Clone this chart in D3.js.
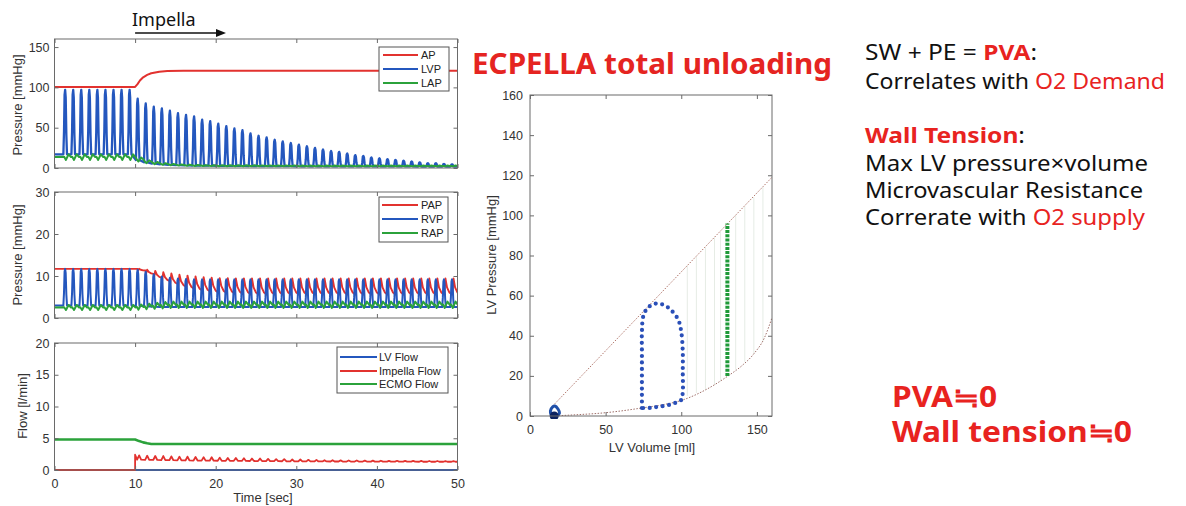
<!DOCTYPE html>
<html>
<head>
<meta charset="utf-8">
<script src="https://cdn.jsdelivr.net/npm/d3@7"></script>
<style>
body { margin: 0; background: #fff; }
svg { display: block; }
</style>
</head>
<body>
<svg id="fig"></svg>
<script>
// ---- data ----
// one beat per second, first beat at 1.3 s, 49 beats
const firstBeat = 1.3;
const beatPeriod = 1.0;

const lvpPeak = [97,97,97,97,97,97,97,97,97,
  86,80,76,74,71,68,66,64,60,58,
  55,52,49,47,43,40,38,35,33,31,
  29,27,25,23,21,20,18,16,15,13,
  12,11,10,9,8,7,6,6,5,4.5];
const lvpMin = [17,17,17,17,17,17,17,17,17,
  10,7,5.5,4.5,4,3.6,3.3,3.1,3,2.9,
  2.8,2.7,2.6,2.6,2.5,2.5,2.4,2.4,2.3,2.3,
  2.2,2.2,2.2,2.1,2.1,2.1,2,2,2,2,
  2,1.9,1.9,1.9,1.9,1.8,1.8,1.8,1.8,1.8];
const lapLow = [10,10,10,10,10,10,10,10,10,
  8,6,4.8,4,3.4,3,2.7,2.5,2.4,2.3,
  2.2,2.2,2.2,2.2,2.2,2.1,2.1,2.1,2.1,2.1,
  2,2,2,2,2,2,2,2,2,2,
  2,2,2,2,2,2,2,2,2,2];
const lapHigh = [17,17,17,17,17,17,17,17,17,
  13,9.5,7.5,6,5,4.4,4,3.7,3.5,3.4,
  3.3,3.3,3.3,3.3,3.3,3.2,3.2,3.2,3.2,3.2,
  3.1,3.1,3.1,3.1,3.1,3.1,3.1,3.1,3.1,3.1,
  3.1,3.1,3.1,3.1,3.1,3.1,3.1,3.1,3.1,3.1];
const apTime = [0, 10, 10.3, 10.6, 11, 11.5, 12, 13, 14, 16, 50];
const apValue = [100.5, 100.5, 104, 108.5, 112.5, 115.5, 117.5, 119.5, 120.3, 120.7, 120.7];

const rvpPeak = [11.7,11.7,11.7,11.7,11.7,11.7,11.7,11.7,11.7,
  11.5,11,10.4,9.9,9.6,9.4,9.3,9.2,9.2,9.2,
  9.2,9.2,9.2,9.2,9.2,9.2,9.2,9.2,9.2,9.2,
  9.2,9.2,9.2,9.2,9.2,9.2,9.2,9.2,9.2,9.2,
  9.2,9.2,9.2,9.2,9.2,9.2,9.2,9.2,9.2,9.2];
const rvpMin = [3,3,3,3,3,3,3,3,3,
  2.9,2.8,2.7,2.6,2.6,2.6,2.6,2.6,2.6,2.6,
  2.6,2.6,2.6,2.6,2.6,2.6,2.6,2.6,2.6,2.6,
  2.6,2.6,2.6,2.6,2.6,2.6,2.6,2.6,2.6,2.6,
  2.6,2.6,2.6,2.6,2.6,2.6,2.6,2.6,2.6,2.6];
const papSys = [11.7,11.7,11.7,11.7,11.7,11.7,11.7,11.7,11.7,
  11.7,11.5,11.2,10.9,10.6,10.3,10.1,9.9,9.7,9.6,
  9.5,9.5,9.4,9.4,9.4,9.4,9.4,9.4,9.4,9.4,
  9.4,9.4,9.4,9.4,9.4,9.4,9.4,9.4,9.4,9.4,
  9.4,9.4,9.4,9.4,9.4,9.4,9.4,9.4,9.4,9.4];
const papDia = [11.7,11.7,11.7,11.7,11.7,11.7,11.7,11.7,11.7,
  11.3,10.5,9.6,8.8,8.1,7.5,7.0,6.6,6.3,6.1,
  6.0,5.9,5.8,5.7,5.6,5.6,5.6,5.6,5.6,5.6,
  5.6,5.6,5.6,5.6,5.6,5.6,5.6,5.6,5.6,5.6,
  5.6,5.6,5.6,5.6,5.6,5.6,5.6,5.6,5.6,5.6];
const rapLow = [1.9,1.9,1.9,1.9,1.9,1.9,1.9,1.9,1.9,
  2.0,2.1,2.2,2.3,2.4,2.4,2.4,2.4,2.4,2.4,
  2.4,2.4,2.4,2.4,2.4,2.4,2.4,2.4,2.4,2.4,
  2.4,2.4,2.4,2.4,2.4,2.4,2.4,2.4,2.4,2.4,
  2.4,2.4,2.4,2.4,2.4,2.4,2.4,2.4,2.4,2.4];
const rapHigh = [3.1,3.1,3.1,3.1,3.1,3.1,3.1,3.1,3.1,
  3.2,3.4,3.6,3.8,3.9,3.9,3.9,3.9,3.9,3.9,
  3.9,3.9,3.9,3.9,3.9,3.9,3.9,3.9,3.9,3.9,
  3.9,3.9,3.9,3.9,3.9,3.9,3.9,3.9,3.9,3.9,
  3.9,3.9,3.9,3.9,3.9,3.9,3.9,3.9,3.9,3.9];

const impellaStart = 10;
const impellaJump = 2.4;
// beats 10..49 (after Impella start)
const impPeak = [2.3,2.25,2.2,2.2,2.15,2.1,2.1,2.05,2.0,2.0,
  1.95,1.9,1.9,1.85,1.8,1.8,1.75,1.7,1.7,1.65,
  1.65,1.6,1.6,1.55,1.55,1.52,1.5,1.5,1.48,1.47,
  1.46,1.45,1.45,1.44,1.43,1.43,1.42,1.42,1.41,1.41];
const impTrough = [1.62,1.6,1.58,1.56,1.54,1.52,1.5,1.49,1.48,1.47,
  1.46,1.45,1.44,1.43,1.42,1.41,1.4,1.39,1.38,1.37,
  1.36,1.36,1.35,1.35,1.34,1.34,1.33,1.33,1.33,1.32,
  1.32,1.32,1.31,1.31,1.31,1.3,1.3,1.3,1.3,1.3];
const ecmoTime = [0, 10, 10.5, 11, 11.5, 12, 50];
const ecmoValue = [4.8, 4.8, 4.55, 4.35, 4.2, 4.1, 4.1];
const lvFlowTime = [0, 50];
const lvFlowValue = [0, 0];

// PV loop plane
const espvrV = [15, 160];
const espvrP = [5, 119];
const edpvrV = [15, 30, 48, 60, 74, 87, 101, 116, 131, 140, 148, 155, 160];
const edpvrP = [0, 0.6, 1.5, 2.5, 4, 5.5, 8, 13, 20, 25, 31, 39, 49];
const loopV = [74, 74, 74, 74, 74, 75, 78, 83, 88, 93, 98, 100, 101, 101, 101, 100, 96, 90, 84, 79, 74];
const loopP = [4, 12, 22, 32, 42, 50, 54, 56, 55.5, 53, 48, 42, 32, 22, 12, 8, 6.5, 5.2, 4.5, 4, 4];
const smallLoopV = [14, 13.5, 15, 16.5, 18.5, 19.5, 18, 15, 14];
const smallLoopP = [0.5, 2.5, 4.5, 5, 3.5, 1.5, 0.3, 0, 0.5];
const endStateV = 16;
const endStateP = 0;
const ecmoLineV = [130.5, 130.5];
const ecmoLineP = [20, 96];
const faintV = [104, 110, 116, 122, 126, 136, 142, 148, 154];
const faintLow = [10, 11.5, 13, 15.5, 17.5, 23, 27, 31, 37];
const faintHigh = [75, 79.5, 84, 89, 92, 100, 104.5, 109, 114];

// ---- drawing ----
const W = 1186, H = 506;
const RED = "#e2322f", BLUE = "#2457be", GREEN = "#2ba23b";
const AXIS = "#6a6a6a";
const TICKFONT = "'Liberation Sans', Arial, sans-serif";
const SLIDEFONT = "'Noto Sans', 'Noto Sans CJK JP', sans-serif";

const svg = d3.select("#fig").attr("width", W).attr("height", H);
svg.append("rect").attr("width", W).attr("height", H).attr("fill", "#fff");

const beatTime = i => firstBeat + i * beatPeriod;

function frame(g, x, y, xTicks, yTicks, xLabels, padX, padY) {
  const [x0, x1] = x.range();
  const [yb, yt] = y.range();
  const style = sel => {
    sel.select(".domain").remove();
    sel.selectAll("line").attr("stroke", AXIS);
    sel.selectAll("text").attr("fill", "#333").style("font-family", TICKFONT).style("font-size", "12.5px");
  };
  g.append("g").attr("transform", `translate(0,${yb})`)
    .call(d3.axisBottom(x).tickValues(xTicks).tickSize(-4).tickPadding(padX)
      .tickFormat(xLabels ? d3.format("d") : ""))
    .call(style);
  g.append("g").attr("transform", `translate(0,${yt})`)
    .call(d3.axisTop(x).tickValues(xTicks).tickSize(-4).tickFormat("")).call(style);
  g.append("g").attr("transform", `translate(${x0},0)`)
    .call(d3.axisLeft(y).tickValues(yTicks).tickSize(-4).tickPadding(padY).tickFormat(d3.format("d")))
    .call(style);
  g.append("g").attr("transform", `translate(${x1},0)`)
    .call(d3.axisRight(y).tickValues(yTicks).tickSize(-4).tickFormat("")).call(style);
  g.append("rect").attr("x", x0).attr("y", yt).attr("width", x1 - x0).attr("height", yb - yt)
    .attr("fill", "none").attr("stroke", AXIS).attr("stroke-width", 1);
}

function clip(id, x, y) {
  const [x0, x1] = x.range();
  const [yb, yt] = y.range();
  svg.append("clipPath").attr("id", id).append("rect")
    .attr("x", x0).attr("y", yt - 1).attr("width", x1 - x0).attr("height", yb - yt + 2);
}

function yLabel(text, cx, cy) {
  svg.append("text").attr("transform", `translate(${cx},${cy}) rotate(-90)`)
    .attr("text-anchor", "middle").attr("dy", "0.35em")
    .style("font-family", TICKFONT).style("font-size", "13px").attr("fill", "#333")
    .text(text);
}

function legend(box, rows) {
  const g = svg.append("g");
  g.append("rect").attr("x", box[0]).attr("y", box[1]).attr("width", box[2]).attr("height", box[3])
    .attr("fill", "#fff").attr("stroke", "#555").attr("stroke-width", 1);
  rows.forEach(r => {
    g.append("line").attr("x1", r.x0).attr("x2", r.x1).attr("y1", r.y).attr("y2", r.y)
      .attr("stroke", r.color).attr("stroke-width", 2);
    g.append("text").attr("x", r.tx).attr("y", r.y).attr("dy", "0.36em")
      .style("font-family", TICKFONT).style("font-size", "11px").attr("fill", "#222").text(r.label);
  });
}

const pts = (xs, ys) => xs.map((v, i) => [v, ys[i]]);

// waveform builders from per-beat values
function spikeSeries(peaks, mins) {
  const out = [[0, mins[0]]];
  peaks.forEach((pk, i) => {
    const t = beatTime(i) - 0.2, lo = mins[i], a = pk - lo;
    out.push([t, lo], [t + 0.08, lo + 0.35 * a], [t + 0.15, lo + 0.92 * a], [t + 0.22, pk],
      [t + 0.29, lo + 0.88 * a], [t + 0.37, lo + 0.3 * a], [t + 0.45, lo]);
  });
  out.push([50, mins[mins.length - 1]]);
  return out;
}
function waveSeries(lows, highs) {
  const out = [[0, (lows[0] + highs[0]) / 2]];
  lows.forEach((lo, i) => {
    const t = beatTime(i), hi = highs[i];
    out.push([t - 0.1, lo + 0.55 * (hi - lo)], [t + 0.12, lo], [t + 0.45, hi], [t + 0.75, lo + 0.5 * (hi - lo)]);
  });
  out.push([50, (lows[lows.length - 1] + highs[highs.length - 1]) / 2]);
  return out;
}
function papSeries(sys, dia) {
  const out = [[0, dia[0]]];
  sys.forEach((s, i) => {
    const t = beatTime(i) + 0.05, d = dia[i];
    const prev = i > 0 ? dia[i - 1] : d;
    out.push([t, Math.min(prev, d)], [t + 0.15, s], [t + 0.35, d + 0.45 * (s - d)], [t + 0.65, d + 0.12 * (s - d)], [t + 0.95, d]);
  });
  out.push([50, dia[dia.length - 1]]);
  return out;
}
function impellaSeries() {
  const out = [[0, 0], [impellaStart, 0], [impellaStart, impellaJump]];
  impPeak.forEach((pk, k) => {
    const t = beatTime(k + 9), lo = impTrough[k];
    out.push([t - 0.05, lo], [t + 0.2, pk], [t + 0.45, lo]);
  });
  out.push([50, impTrough[impTrough.length - 1]]);
  return out;
}

const tx = d3.scaleLinear().domain([0, 50]).range([54.5, 457.5]);
const y1 = d3.scaleLinear().domain([0, 160]).range([168, 39]);
const y2 = d3.scaleLinear().domain([0, 30]).range([318, 192]);
const y3 = d3.scaleLinear().domain([0, 20]).range([470, 343]);
const timeTicks = [0, 10, 20, 30, 40, 50];

function drawSeries(id, y, series) {
  const g = svg.append("g").attr("clip-path", `url(#${id})`);
  const line = d3.line().x(d => tx(d[0])).y(d => y(d[1]));
  series.forEach(s => {
    g.append("path").attr("d", line(s.data)).attr("fill", "none")
      .attr("stroke", s.color).attr("stroke-width", s.w || 1.8).attr("stroke-linejoin", "round");
  });
}

// panel 1
clip("c1", tx, y1);
drawSeries("c1", y1, [
  { data: pts(apTime, apValue), color: RED, w: 2 },
  { data: spikeSeries(lvpPeak, lvpMin), color: BLUE, w: 2.3 },
  { data: waveSeries(lapLow, lapHigh), color: GREEN, w: 2 }
]);
frame(svg.append("g"), tx, y1, timeTicks, [0, 50, 100, 150], false, 9, 5);
yLabel("Pressure [mmHg]", 17, 105);
legend([379, 47, 70, 44], [
  { label: "AP", color: RED, x0: 383, x1: 418, tx: 421, y: 55 },
  { label: "LVP", color: BLUE, x0: 383, x1: 418, tx: 421, y: 69 },
  { label: "LAP", color: GREEN, x0: 383, x1: 418, tx: 421, y: 83 }
]);

// panel 2
clip("c2", tx, y2);
drawSeries("c2", y2, [
  { data: papSeries(papSys, papDia), color: RED, w: 1.9 },
  { data: spikeSeries(rvpPeak, rvpMin), color: BLUE, w: 2 },
  { data: waveSeries(rapLow, rapHigh), color: GREEN, w: 2 }
]);
frame(svg.append("g"), tx, y2, timeTicks, [0, 10, 20, 30], false, 9, 5);
yLabel("Pressure [mmHg]", 17, 255);
legend([379, 197, 69, 45], [
  { label: "PAP", color: RED, x0: 382, x1: 418, tx: 421, y: 205 },
  { label: "RVP", color: BLUE, x0: 382, x1: 418, tx: 421, y: 219 },
  { label: "RAP", color: GREEN, x0: 382, x1: 418, tx: 421, y: 233 }
]);

// panel 3
clip("c3", tx, y3);
drawSeries("c3", y3, [
  { data: pts(lvFlowTime, lvFlowValue), color: BLUE, w: 2 },
  { data: impellaSeries(), color: RED, w: 1.8 },
  { data: pts(ecmoTime, ecmoValue), color: GREEN, w: 2.6 }
]);
frame(svg.append("g"), tx, y3, timeTicks, [0, 5, 10, 15, 20], true, 9, 5);
yLabel("Flow [l/min]", 22, 406);
svg.append("text").attr("x", 263).attr("y", 502).attr("text-anchor", "middle")
  .style("font-family", TICKFONT).style("font-size", "13px").attr("fill", "#333").text("Time [sec]");
legend([337, 347, 111, 46], [
  { label: "LV Flow", color: BLUE, x0: 340, x1: 377, tx: 379, y: 357 },
  { label: "Impella Flow", color: RED, x0: 340, x1: 377, tx: 379, y: 371 },
  { label: "ECMO Flow", color: GREEN, x0: 340, x1: 377, tx: 379, y: 384 }
]);

// Impella marker above panel 1
svg.append("text").attr("x", 132).attr("y", 26)
  .style("font-family", SLIDEFONT).style("font-size", "18px").attr("fill", "#111").text("Impella");
svg.append("line").attr("x1", tx(10)).attr("x2", 220).attr("y1", 33).attr("y2", 33)
  .attr("stroke", "#111").attr("stroke-width", 1.3);
svg.append("path").attr("d", "M216,29 L226,33 L216,37 Z").attr("fill", "#111");

// PV loop plane
const vx = d3.scaleLinear().domain([0, 160]).range([530, 772]);
const py = d3.scaleLinear().domain([0, 160]).range([416, 95]);
svg.append("clipPath").attr("id", "cpv").append("rect").attr("x", 530).attr("y", 95).attr("width", 242).attr("height", 324);
const pv = svg.append("g").attr("clip-path", "url(#cpv)");
const pvLine = d3.line().x(d => vx(d[0])).y(d => py(d[1]));

faintV.forEach((v, i) => {
  pv.append("line").attr("x1", vx(v)).attr("x2", vx(v)).attr("y1", py(faintLow[i])).attr("y2", py(faintHigh[i]))
    .attr("stroke", "#e6ece5").attr("stroke-width", 1);
});
pv.append("path").attr("d", pvLine(pts(espvrV, espvrP))).attr("fill", "none")
  .attr("stroke", "#b0756a").attr("stroke-width", 1).attr("stroke-dasharray", "1.5 1.5");
pv.append("path").attr("d", pvLine.curve(d3.curveMonotoneX)(pts(edpvrV, edpvrP))).attr("fill", "none")
  .attr("stroke", "#a0706a").attr("stroke-width", 1).attr("stroke-dasharray", "1.5 1.5");
pvLine.curve(d3.curveLinear);
pv.append("path").attr("d", pvLine(pts(ecmoLineV, ecmoLineP))).attr("fill", "none")
  .attr("stroke", "#1f9a38").attr("stroke-width", 4).attr("stroke-dasharray", "3 1.2");
pv.append("path").attr("d", pvLine.curve(d3.curveCatmullRom)(pts(loopV, loopP))).attr("fill", "none")
  .attr("stroke", "#2a4fb8").attr("stroke-width", 4.2).attr("stroke-linecap", "round")
  .attr("stroke-dasharray", "0 6.5");
pv.append("path").attr("d", pvLine.curve(d3.curveCatmullRomClosed)(pts(smallLoopV, smallLoopP))).attr("fill", "none")
  .attr("stroke", "#2050a8").attr("stroke-width", 3);
pv.append("circle").attr("cx", vx(endStateV)).attr("cy", py(endStateP)).attr("r", 4.5).attr("fill", "#0c2260");

frame(svg.append("g"), vx, py, [0, 50, 100, 150], [0, 20, 40, 60, 80, 100, 120, 140, 160], true, 9, 7);
yLabel("LV Pressure [mmHg]", 491, 255);
svg.append("text").attr("x", 652).attr("y", 452).attr("text-anchor", "middle")
  .style("font-family", TICKFONT).style("font-size", "13px").attr("fill", "#333").text("LV Volume [ml]");

// slide texts
svg.append("text").attr("x", 472).attr("y", 74)
  .style("font-family", SLIDEFONT).style("font-size", "29px").style("font-weight", "bold")
  .attr("fill", "#e52421").attr("textLength", 360).attr("lengthAdjust", "spacingAndGlyphs")
  .text("ECPELLA total unloading");

const notes = [
  { y: 60, w: 172, parts: [["SW + PE = ", "#111", "normal"], ["PVA", "#e8231f", "bold"], [":", "#111", "normal"]] },
  { y: 89, w: 300, parts: [["Correlates with ", "#111", "normal"], ["O2 Demand", "#e8231f", "normal"]] },
  { y: 143, w: 160, parts: [["Wall Tension", "#e8231f", "bold"], [":", "#111", "normal"]] },
  { y: 171, w: 283, parts: [["Max LV pressure×volume", "#111", "normal"]] },
  { y: 198, w: 278, parts: [["Microvascular Resistance", "#111", "normal"]] },
  { y: 225, w: 280, parts: [["Correrate with ", "#111", "normal"], ["O2 supply", "#e8231f", "normal"]] }
];
notes.forEach(n => {
  const t = svg.append("text").attr("x", 865).attr("y", n.y)
    .attr("textLength", n.w).attr("lengthAdjust", "spacingAndGlyphs")
    .style("font-family", SLIDEFONT).style("font-size", "21px");
  n.parts.forEach(p => t.append("tspan").attr("fill", p[1]).style("font-weight", p[2]).text(p[0]));
});

svg.append("text").attr("x", 892).attr("y", 407)
  .attr("textLength", 105).attr("lengthAdjust", "spacingAndGlyphs")
  .style("font-family", SLIDEFONT).style("font-size", "28px").style("font-weight", "bold")
  .attr("fill", "#e8231f").text("PVA≒0");
svg.append("text").attr("x", 892).attr("y", 442)
  .attr("textLength", 240).attr("lengthAdjust", "spacingAndGlyphs")
  .style("font-family", SLIDEFONT).style("font-size", "28px").style("font-weight", "bold")
  .attr("fill", "#e8231f").text("Wall tension≒0");
</script>
</body>
</html>
